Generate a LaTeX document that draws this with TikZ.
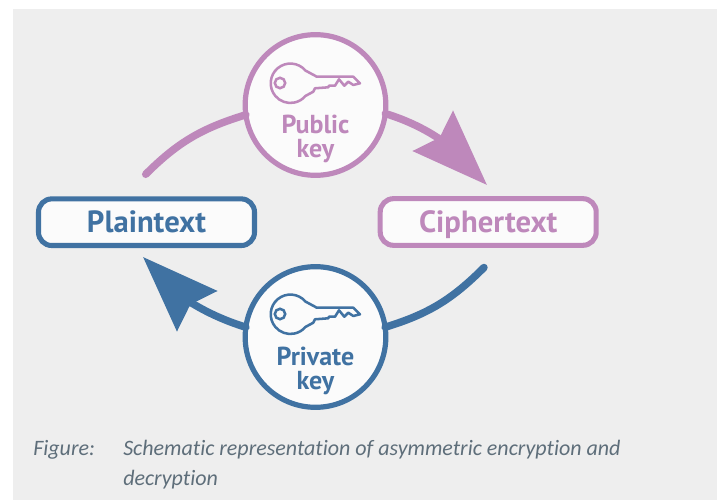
\documentclass[tikz,border=0pt]{standalone}
\usepackage{fontspec}
\usetikzlibrary{arrows.meta}
\setmainfont{PT Sans}
\newfontfamily\capfont[Ligatures=NoCommon]{Carlito}
\definecolor{pinkc}{HTML}{BE88BB}
\definecolor{bluec}{HTML}{4072A2}
\definecolor{bgc}{HTML}{EEEEEE}
\definecolor{fillc}{HTML}{FBFBFB}
\definecolor{capc}{HTML}{5E6E7A}
\tikzset{
  keynode/.style={circle,draw=#1,fill=fillc,line width=3.9pt,minimum size=105.5pt,inner sep=0pt,outer sep=0pt},
  textbox/.style={rectangle,rounded corners=10pt,draw=#1,fill=fillc,text=#1,line width=3.8pt,minimum width=162pt,minimum height=35pt,inner sep=0pt,outer sep=0pt,font=\bfseries\fontsize{23}{26}\selectfont,text height=16pt,text depth=0pt},
  keylabel/.style={text=#1,font=\bfseries\fontsize{19.5}{18}\selectfont,align=center,inner sep=0pt},
  conn/.style={draw=#1,line width=5.6pt,line cap=round},
  headtip/.style={-{Stealth[length=57pt,width=42pt,inset=6.75pt,#1]}},
  capline/.style={text=capc,anchor=base west,inner sep=0pt,font=\capfont\itshape\fontsize{16.5}{18}\selectfont},
  keyicon/.pic={
    \path[pic actions,line width=1.9pt,line join=round]
      (-10,34.4) arc[start angle=40,end angle=320,radius=19.7]
      -- (-2.2,13.3) -- (-0.5,16.7) -- (12.8,17.7) -- (13.5,19.3) -- (19.5,19.3)
      -- (23.5,25.7) -- (28.8,19.3) -- (32.8,23.3) -- (37.8,20) -- (44.5,21.7)
      -- (37.8,28.3) -- (1.2,28.3) -- (-0.5,29.3) -- cycle;
    \path[pic actions,line width=1.9pt] (-35.5,22) circle[radius=5.2];
  }
}
\begin{document}
\begin{tikzpicture}[x=0.75pt,y=0.75pt]
\useasboundingbox (0,0) rectangle (717,500);
\fill[bgc] (13,0) rectangle (717,491);
\coordinate (pubStart) at (145.7,325.7);
\coordinate (ciphIn) at (487,315);
\coordinate (privStart) at (484,232.5);
\coordinate (plainIn) at (143,243);
\node[keynode=pinkc] (pub) at (315.5,395) {};
\node[keynode=bluec] (priv) at (315.5,163) {};
\node[textbox=bluec] (plain) at (146.5,277.8) {Plaintext};
\node[textbox=pinkc] (ciph) at (488.2,278) {Ciphertext};
\pic[draw=pinkc] at (pub) {keyicon};
\pic[draw=bluec,yshift=0.75pt] at (priv) {keyicon};
\node[keylabel=pinkc] (publbl) at (315.5,361) {Public\\key};
\node[keylabel=bluec] (privlbl) at (315.5,129) {Private\\key};
\draw[conn=pinkc] (pubStart) to[out=45,in=197] (pub.188);
\draw[conn=pinkc,headtip] (pub.-7.5) to[out=-17,in=135] (ciphIn);
\draw[conn=bluec] (privStart) to[out=225,in=17] (priv.8);
\draw[conn=bluec,headtip] (priv.172.7) to[out=163,in=-45] (plainIn);
\node[capline] (figlbl) at (33,45) {Figure:};
\node[capline] (cap1) at (123,45) {Schematic representation of asymmetric encryption and};
\node[capline] (cap2) at (123,15) {decryption};
\end{tikzpicture}
\end{document}
